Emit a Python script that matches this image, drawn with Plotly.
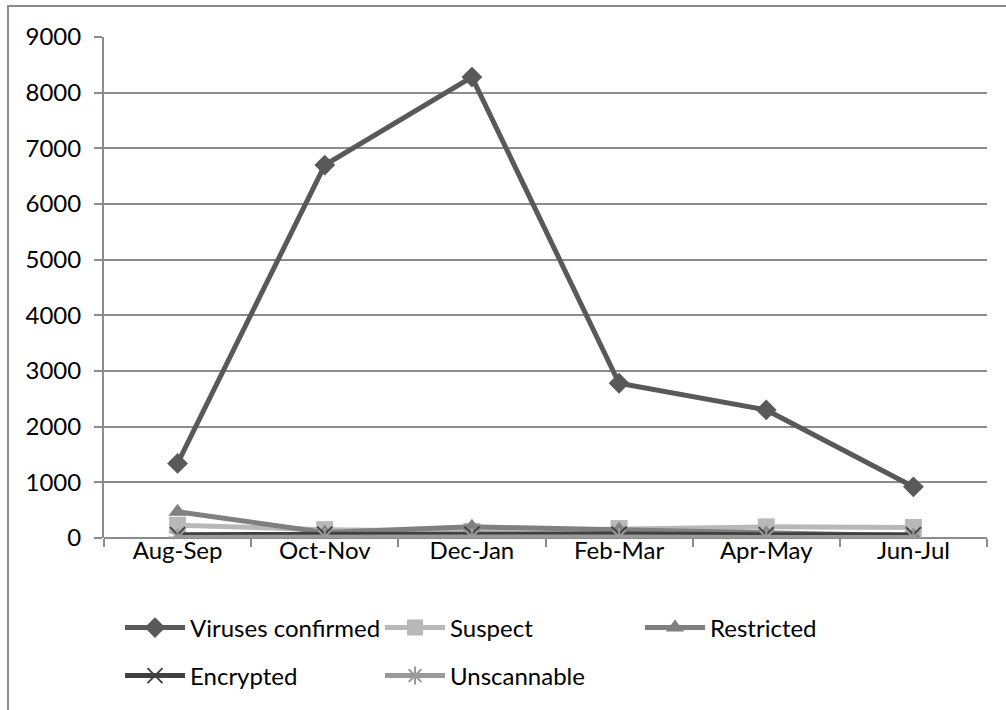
import plotly.graph_objects as go

# Bi-monthly counts
periods = ["Aug-Sep", "Oct-Nov", "Dec-Jan", "Feb-Mar", "Apr-May", "Jun-Jul"]
viruses_confirmed = [1340, 6700, 8280, 2780, 2300, 920]
suspect = [230, 150, 120, 170, 200, 190]
restricted = [470, 100, 200, 150, 80, 40]
encrypted = [60, 70, 70, 70, 60, 60]
unscannable = [10, 20, 20, 20, 10, 10]
y_ticks = [0, 1000, 2000, 3000, 4000, 5000, 6000, 7000, 8000, 9000]

FONT = "Lato, Carlito, Calibri, sans-serif"
GRID = "#8c8c8c"
FS = 24

series = [
    ("Viruses confirmed", viruses_confirmed, "#595959", "diamond", 16, "legend"),
    ("Suspect", suspect, "#b8b8b8", "square", 17, "legend"),
    ("Restricted", restricted, "#808080", "triangle-up", 16, "legend"),
    ("Encrypted", encrypted, "#404040", "x-thin", 15, "legend2"),
    ("Unscannable", unscannable, "#9a9a9a", "asterisk", 15, "legend2"),
]

fig = go.Figure()
for name, vals, color, sym, size, leg in series:
    thin = sym in ("x-thin", "asterisk")
    fig.add_trace(go.Scatter(
        x=periods, y=vals, name=name, mode="lines+markers",
        line=dict(color=color, width=5),
        marker=dict(symbol=sym, size=size, color=color,
                    line=dict(color=color, width=2 if thin else 0)),
        legend=leg,
    ))

W, H = 1006, 710
L, R, T, B = 104, 19, 37, 172
pw, ph = W - L - R, H - T - B

legend_common = dict(
    orientation="h", xanchor="left", yanchor="middle",
    entrywidth=185, entrywidthmode="pixels", itemwidth=60,
    font=dict(family=FONT, size=FS, color="#000000"),
    bgcolor="rgba(0,0,0,0)", borderwidth=0,
)

fig.update_layout(
    width=W, height=H,
    margin=dict(l=L, r=R, t=T, b=B),
    paper_bgcolor="white", plot_bgcolor="white",
    font=dict(family=FONT, size=FS, color="#000000"),
    showlegend=True,
    legend=dict(legend_common, x=(120 - L) / pw, y=-(628 - (T + ph)) / ph),
    legend2=dict(legend_common, x=(120 - L) / pw, y=-(676 - (T + ph)) / ph),
    xaxis=dict(
        type="category", range=[-0.5, 5.5], tickson="boundaries",
        ticks="outside", ticklen=8, tickwidth=2, tickcolor=GRID,
        showline=False, showgrid=False, zeroline=False,
        tickfont=dict(family=FONT, size=FS, color="#000000"),
        ticklabelstandoff=-4,
    ),
    yaxis=dict(
        range=[0, 9000], tickmode="array", tickvals=y_ticks,
        ticks="outside", ticklen=8, tickwidth=2, tickcolor=GRID,
        showline=True, linecolor=GRID, linewidth=2,
        showgrid=True, gridcolor=GRID, gridwidth=2,
        zeroline=True, zerolinecolor=GRID, zerolinewidth=2,
        tickfont=dict(family=FONT, size=FS, color="#000000"),
        ticklabelstandoff=8,
    ),
)

# Chart-area border (extends past the right and bottom edges)
fig.add_shape(
    type="rect", xref="paper", yref="paper",
    x0=(8 - L) / pw, x1=(W + 10 - L) / pw,
    y0=-(H + 10 - (T + ph)) / ph, y1=(T + ph - 6) / ph,
    line=dict(color=GRID, width=2), fillcolor="rgba(0,0,0,0)", layer="below",
)

fig.write_html("out.html")
